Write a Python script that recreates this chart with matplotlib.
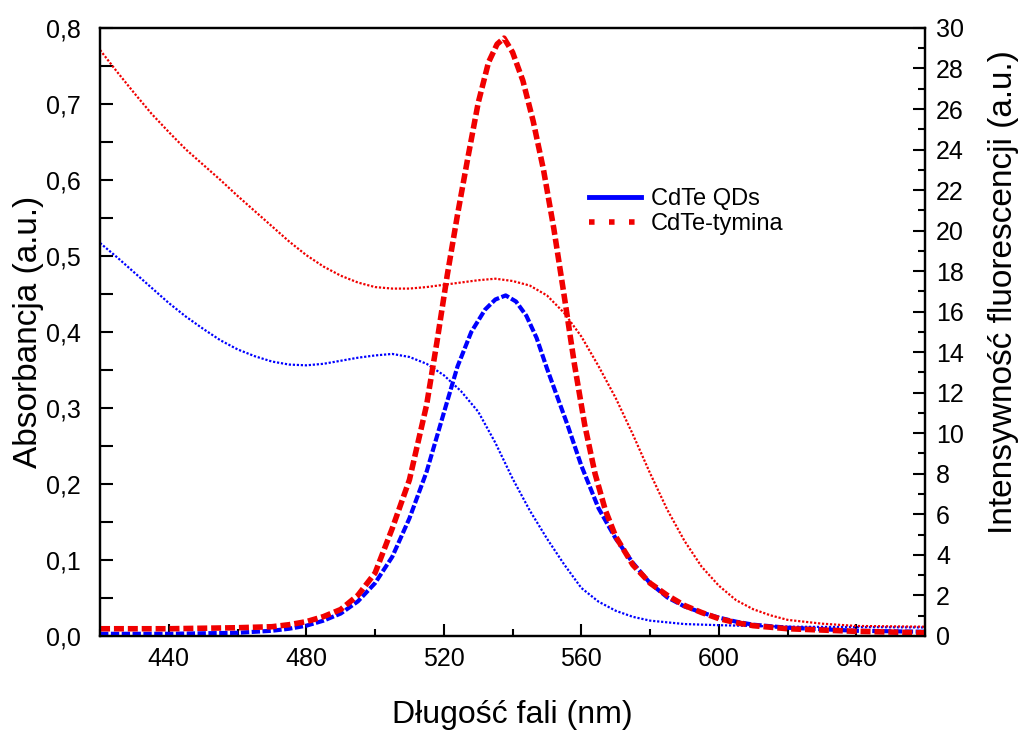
import matplotlib
matplotlib.use("Agg")
import matplotlib.pyplot as plt
from matplotlib import font_manager
from matplotlib.ticker import MultipleLocator, FuncFormatter
from matplotlib.lines import Line2D

# Absorbance of CdTe QDs (left axis)
wl_abs_qd = [420, 425, 430, 435, 440, 445, 450, 455, 460, 465, 470, 475, 480,
             485, 490, 495, 500, 505, 510, 515, 520, 525, 530, 535, 540, 545,
             550, 555, 560, 565, 570, 575, 580, 590, 600, 620, 660]
abs_qd = [0.517, 0.498, 0.478, 0.458, 0.438, 0.420, 0.404, 0.389, 0.377, 0.368,
          0.361, 0.357, 0.356, 0.358, 0.362, 0.366, 0.369, 0.371, 0.367, 0.358,
          0.343, 0.322, 0.295, 0.254, 0.207, 0.165, 0.128, 0.094, 0.063, 0.045,
          0.033, 0.025, 0.020, 0.0155, 0.014, 0.012, 0.011]

# Absorbance of CdTe-tymina (left axis)
wl_abs_thy = [420, 425, 430, 435, 440, 445, 450, 455, 460, 465, 470, 475, 480,
              485, 490, 495, 500, 505, 510, 515, 520, 525, 530, 535, 540, 545,
              550, 555, 560, 565, 570, 575, 580, 585, 590, 595, 600, 605, 610,
              615, 620, 630, 640, 660]
abs_thy = [0.771, 0.742, 0.714, 0.687, 0.663, 0.640, 0.620, 0.600, 0.579, 0.559,
           0.539, 0.519, 0.501, 0.486, 0.474, 0.465, 0.459, 0.457, 0.457, 0.459,
           0.462, 0.465, 0.468, 0.470, 0.467, 0.461, 0.448, 0.425, 0.394, 0.355,
           0.313, 0.265, 0.214, 0.166, 0.125, 0.091, 0.066, 0.047, 0.035, 0.027,
           0.021, 0.016, 0.013, 0.012]

# Fluorescence of CdTe QDs (right axis)
wl_fl_qd = [420, 440, 460, 470, 475, 480, 485, 490, 495, 500, 505, 510, 515,
            520, 524, 528, 532, 535, 538, 541, 544, 547, 550, 553, 556, 560,
            565, 570, 575, 580, 585, 590, 595, 600, 605, 610, 620, 640, 660]
fl_qd = [0.1, 0.1, 0.15, 0.25, 0.35, 0.5, 0.75, 1.1, 1.7, 2.6, 3.9, 5.8, 8.1,
         11.0, 13.3, 15.0, 16.1, 16.6, 16.8, 16.5, 15.8, 14.7, 13.2, 11.8, 10.4,
         8.4, 6.3, 4.8, 3.6, 2.6, 1.9, 1.45, 1.15, 0.9, 0.7, 0.55, 0.4, 0.25, 0.2]

# Fluorescence of CdTe-tymina (right axis)
wl_fl_thy = [420, 440, 460, 470, 475, 480, 485, 490, 495, 500, 505, 510, 515,
             518, 521, 524, 527, 530, 533, 535.5, 537.5, 540, 543, 546, 549,
             552, 555, 558, 561, 564, 567, 570, 575, 580, 585, 590, 595, 600,
             605, 610, 620, 640, 660]
fl_thy = [0.35, 0.35, 0.4, 0.45, 0.55, 0.7, 0.95, 1.3, 2.0, 3.1, 5.3, 7.7, 11.4,
          14.5, 17.8, 20.8, 23.6, 26.3, 28.3, 29.2, 29.5, 28.8, 27.4, 25.4, 23.0,
          20.1, 16.8, 13.4, 10.4, 8.0, 6.2, 4.9, 3.5, 2.6, 2.0, 1.5, 1.15, 0.85,
          0.65, 0.5, 0.35, 0.22, 0.15]

legend_labels = ["CdTe QDs", "CdTe-tymina"]

blue = "#0000ff"
red = "#f00000"

# fonts: Arial-like for ticks, narrow for axis titles if available
names = {f.name for f in font_manager.fontManager.ttflist}
tick_font = "Liberation Sans" if "Liberation Sans" in names else "DejaVu Sans"
label_font = "Liberation Sans Narrow" if "Liberation Sans Narrow" in names else tick_font
plt.rcParams["font.family"] = [tick_font, "DejaVu Sans"]

fig = plt.figure(figsize=(10.24, 7.3), dpi=100)
ax = fig.add_axes([0.0977, 0.129, 0.8057, 0.8327])
ax2 = ax.twinx()

# absorbance curves
ax.plot(wl_abs_qd, abs_qd, color=blue, lw=1.6, dashes=(1, 0.8))
ax.plot(wl_abs_thy, abs_thy, color=red, lw=1.6, dashes=(1, 0.8))

# fluorescence curves
ax2.plot(wl_fl_qd, fl_qd, color=blue, lw=3.0, dashes=(2, 0.6))
ax2.plot(wl_fl_thy, fl_thy, color=red, lw=4.0, dashes=(1.8, 0.7))

ax.set_xlim(420, 660)
ax.set_ylim(0, 0.8)
ax2.set_ylim(0, 30)

ax.xaxis.set_major_locator(MultipleLocator(40))
ax.xaxis.set_minor_locator(MultipleLocator(20))
ax.yaxis.set_major_locator(MultipleLocator(0.1))
ax.yaxis.set_minor_locator(MultipleLocator(0.05))
ax.yaxis.set_major_formatter(FuncFormatter(lambda v, p: f"{v:.1f}".replace(".", ",")))
ax2.yaxis.set_major_locator(MultipleLocator(2))
ax2.yaxis.set_minor_locator(MultipleLocator(1))

ax.tick_params(axis="both", which="both", direction="in", width=1.5,
               labelsize=18, top=False, right=False)
ax.tick_params(axis="x", which="major", length=9, pad=8)
ax.tick_params(axis="x", which="minor", length=5)
ax.tick_params(axis="y", which="both", length=9, pad=14)
ax2.tick_params(axis="y", which="major", direction="in", width=1.5, length=9,
                labelsize=18, pad=8)
ax2.tick_params(axis="y", which="minor", direction="in", width=1.5, length=5)

for a in (ax, ax2):
    for s in a.spines.values():
        s.set_linewidth(1.6)

ax.set_xlabel("Długość fali (nm)", fontsize=23, family=label_font, labelpad=21)
ax.set_ylabel("Absorbancja (a.u.)", fontsize=24, family=label_font)
ax.yaxis.set_label_coords(-0.068, 0.5)
ax2.set_ylabel("Intensywność fluorescencji (a.u.)", fontsize=24, family=label_font)
ax2.yaxis.set_label_coords(1.076, 0.566)

# legend with proxy handles
handles = [Line2D([], [], color=blue, lw=3.5),
           Line2D([], [], color=red, lw=4, dashes=(1, 2.6))]
ax.legend(handles, legend_labels, loc="center left", bbox_to_anchor=(0.593, 0.698),
          frameon=False, fontsize=17, handlelength=2.2, handletextpad=0.4,
          labelspacing=0.15, borderaxespad=0, borderpad=0)

fig.savefig("out.png", dpi=100)
